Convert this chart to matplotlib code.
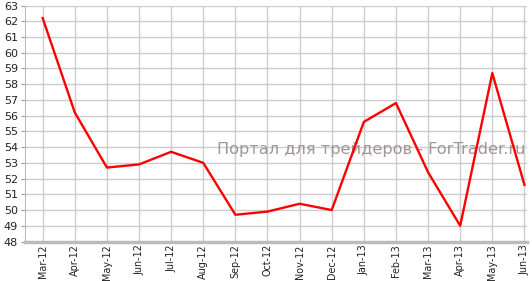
import numpy as np
import matplotlib
matplotlib.use("Agg")
import matplotlib.pyplot as plt

# === Data ===
months = ["Mar-12", "Apr-12", "May-12", "Jun-12", "Jul-12", "Aug-12", "Sep-12",
          "Oct-12", "Nov-12", "Dec-12", "Jan-13", "Feb-13", "Mar-13", "Apr-13",
          "May-13", "Jun-13"]
values = [62.2, 56.2, 52.7, 52.9, 53.7, 53.0, 49.7, 49.9, 50.4, 50.0,
          55.6, 56.8, 52.4, 49.0, 58.7, 51.6]
y_ticks = list(range(48, 64))

# === Figure ===
fig = plt.figure(figsize=(5.32, 2.81), dpi=100)
ax = fig.add_axes([25 / 532, 39.5 / 281, 502 / 532, 236 / 281])

x = np.arange(len(months))
ax.plot(x, values, color="#ff0000", linewidth=1.7, zorder=3)

ax.set_xlim(-0.55, len(months) - 1 + 0.08)
ax.set_ylim(48, 63)
ax.set_xticks(x)
ax.set_xticklabels(months, rotation=90, fontsize=6.9, color="#222222")
ax.set_yticks(y_ticks)
ax.set_yticklabels([str(v) for v in y_ticks], fontsize=8, color="#222222")

ax.grid(True, color="#cccccc", linewidth=1.0)
ax.set_axisbelow(True)
for side in ["top", "right"]:
    ax.spines[side].set_visible(False)
ax.spines["left"].set_color("#bbbbbb")
ax.spines["bottom"].set_color("#bbbbbb")
ax.spines["bottom"].set_linewidth(2.5)
ax.tick_params(axis="y", length=3, color="#999999", pad=2)
ax.tick_params(axis="x", length=0, pad=2)

# watermark
ax.text(0.997, 0.39, "Портал для трейдеров - ForTrader.ru", transform=ax.transAxes,
        ha="right", va="center", fontsize=11.6, color="#a09696", zorder=2)

fig.savefig("out.png", dpi=100)
